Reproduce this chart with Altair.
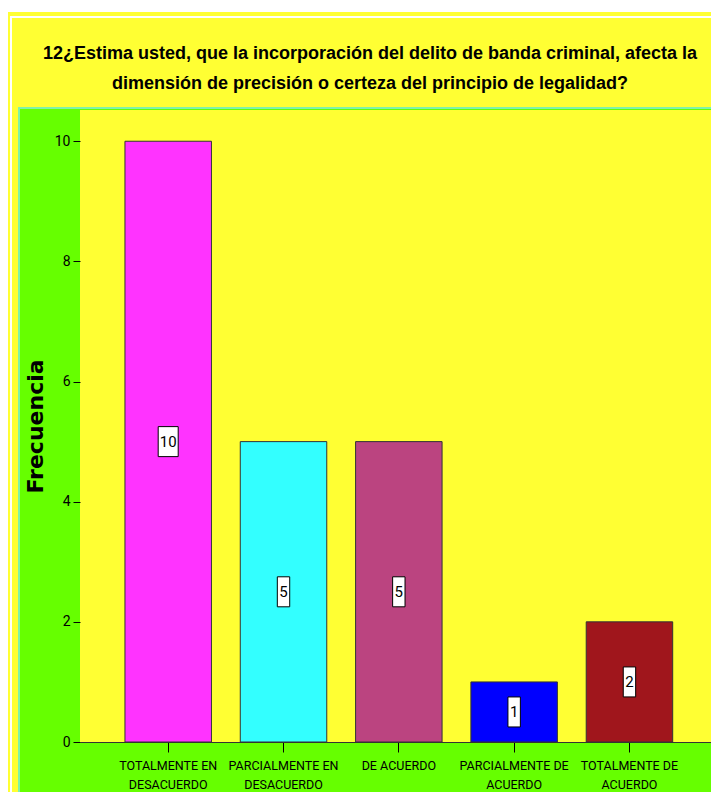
import altair as alt
import pandas as pd

# ---- data ----
categories = [
    "TOTALMENTE EN\nDESACUERDO",
    "PARCIALMENTE EN\nDESACUERDO",
    "DE ACUERDO",
    "PARCIALMENTE DE\nACUERDO",
    "TOTALMENTE DE\nACUERDO",
]
frequencies = [10, 5, 5, 1, 2]
bar_colors = ["#FF33FF", "#33FFFF", "#BB4480", "#0000FF", "#A0161C"]
y_ticks = [0, 2, 4, 6, 8, 10]
title_lines = [
    "12¿Estima usted, que la incorporación del delito de banda criminal, afecta la",
    "dimensión de precisión o certeza del principio de legalidad?",
]

YELLOW = "#FFFF33"
GREEN = "#66FF00"
AQUA = "#7FF2A8"
NARROW = "Roboto, Liberation Sans, sans-serif"

W, H = 631, 632

df = pd.DataFrame({"cat": categories, "Frecuencia": frequencies, "color": bar_colors})

base = alt.Chart(df)
deco = alt.Chart(alt.Data(values=[{"k": 1}]))

outer = deco.mark_rect(fill=YELLOW).encode(
    x=alt.value(-72), x2=alt.value(W + 10), y=alt.value(-98), y2=alt.value(H + 80)
)
inner = deco.mark_rect(fill=YELLOW, stroke="white", strokeWidth=2).encode(
    x=alt.value(-69), x2=alt.value(W + 20), y=alt.value(-93), y2=alt.value(H + 90)
)
green = deco.mark_rect(fill=GREEN, stroke=AQUA, strokeWidth=2).encode(
    x=alt.value(-61), x2=alt.value(W + 10), y=alt.value(-2), y2=alt.value(H + 90)
)
plotbg = deco.mark_rect(fill=YELLOW).encode(
    x=alt.value(0), x2=alt.value(W + 10), y=alt.value(0), y2=alt.value(H)
)

x_enc = alt.X(
    "cat:N",
    sort=categories,
    scale=alt.Scale(paddingInner=0.25, paddingOuter=0.361, align=0.54),
    axis=alt.Axis(
        title=None,
        labelAngle=0,
        labelExpr="split(datum.label, '\\n')",
        labelFont=NARROW,
        labelFontSize=12.5,
        labelLineHeight=19,
        labelColor="black",
        labelPadding=7,
        tickColor="black",
        tickSize=10,
        domainColor="#333333",
        grid=False,
        zindex=1,
    ),
)
y_enc = alt.Y(
    "Frecuencia:Q",
    scale=alt.Scale(domain=[0, 10.52], nice=False),
    axis=alt.Axis(
        values=y_ticks,
        format="d",
        title="Frecuencia",
        titleFont="DejaVu Sans",
        titleFontWeight="bold",
        titleFontSize=22,
        titleColor="black",
        titlePadding=7,
        labelFont=NARROW,
        labelFontSize=14,
        labelColor="black",
        labelPadding=3,
        tickColor="black",
        tickSize=7,
        domain=False,
        grid=False,
        zindex=1,
    ),
)

bars = base.mark_bar(stroke="#333333", strokeWidth=1).encode(
    x=x_enc, y=y_enc, color=alt.Color("color:N", scale=None)
)

wide_box = "M-1.0,-1.5L1.0,-1.5L1.0,1.5L-1.0,1.5Z"
narrow_box = "M-0.62,-1.5L0.62,-1.5L0.62,1.5L-0.62,1.5Z"

boxes = base.transform_calculate(mid="datum.Frecuencia / 2").mark_point(
    filled=True, fill="white", stroke="black", strokeWidth=1, opacity=1, size=400
).encode(
    x=alt.X("cat:N", sort=categories),
    y=alt.Y("mid:Q"),
    shape=alt.condition("datum.Frecuencia >= 10", alt.value(wide_box), alt.value(narrow_box)),
)

labels = base.transform_calculate(mid="datum.Frecuencia / 2").mark_text(
    font=NARROW, fontSize=15, color="black", baseline="middle", align="center"
).encode(
    x=alt.X("cat:N", sort=categories),
    y=alt.Y("mid:Q"),
    text=alt.Text("Frecuencia:Q"),
)

title = deco.mark_text(
    text=title_lines,
    font="Liberation Sans, Arial, sans-serif",
    fontSize=18,
    fontWeight="bold",
    lineHeight=30,
    color="black",
    align="center",
    baseline="middle",
).encode(x=alt.value(290), y=alt.value(-56))

chart = (
    alt.layer(outer, inner, green, plotbg, bars, boxes, labels, title)
    .properties(
        width=W,
        height=H,
        autosize=alt.AutoSizeParams(type="none"),
        padding={"left": 72, "top": 102, "right": 0, "bottom": 50},
        background="white",
    )
    .configure_view(strokeWidth=0)
)

chart.save("out.html", embed_options={"renderer": "svg", "actions": False})
